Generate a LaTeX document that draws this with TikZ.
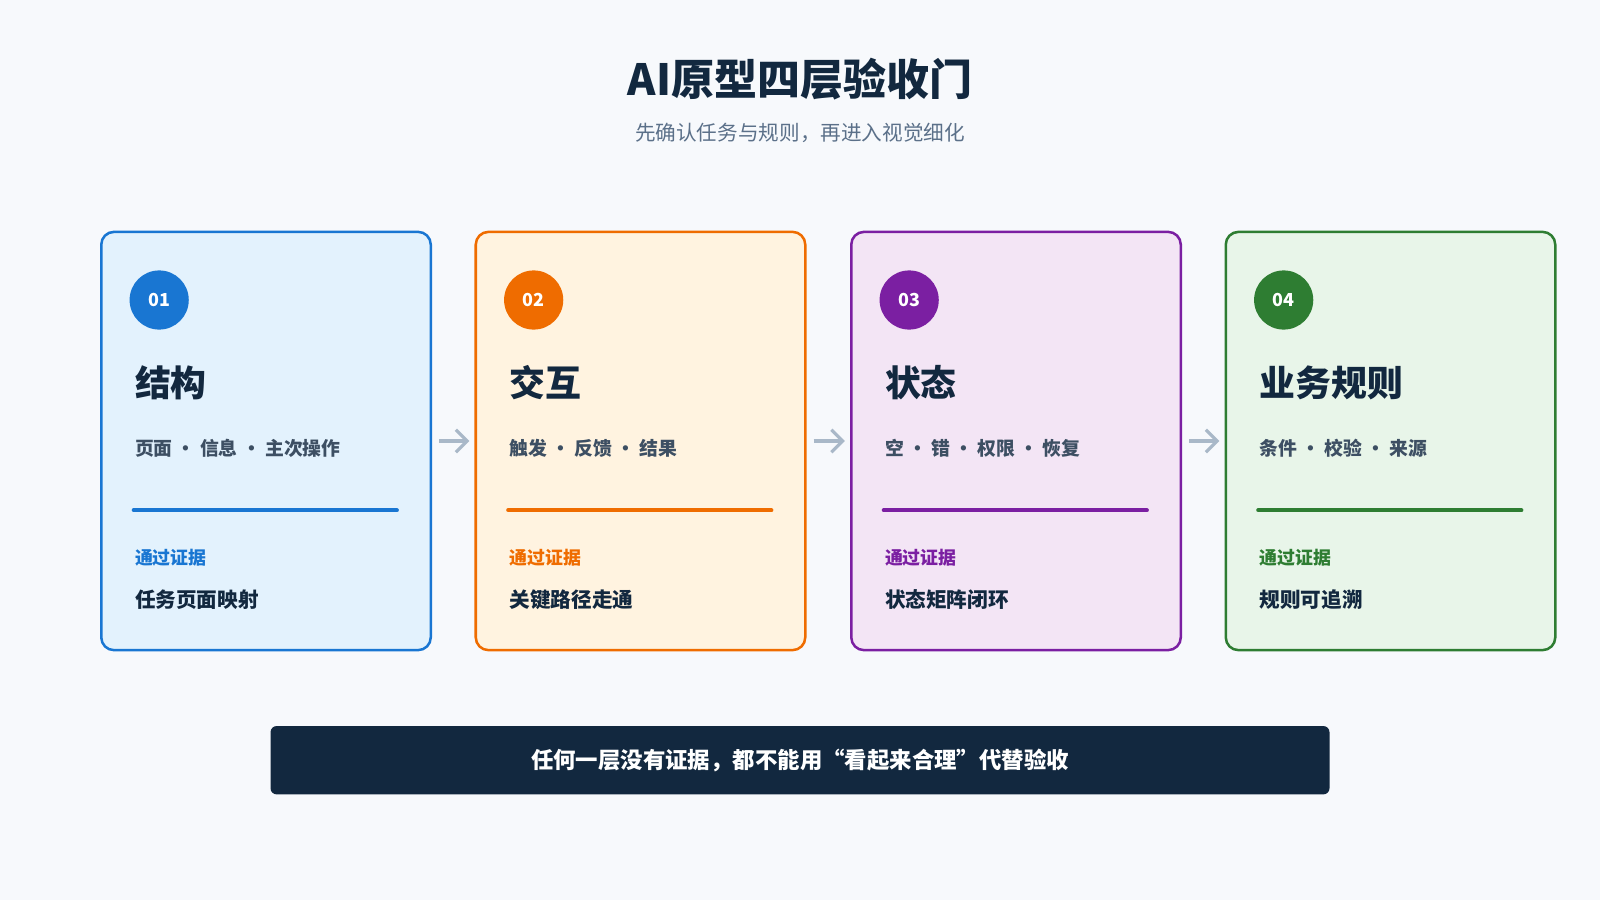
\documentclass[tikz,border=0pt]{standalone}
\usepackage{fontspec}
\setmainfont{Noto Sans CJK SC}
\usetikzlibrary{positioning, arrows.meta}
\definecolor{bgcolor}{HTML}{F7F9FC}
\definecolor{navy}{HTML}{12283F}
\definecolor{subgray}{HTML}{5B7089}
\definecolor{itemgray}{HTML}{3D4F63}
\definecolor{arrowgray}{HTML}{A9B8C8}
\definecolor{bluec}{HTML}{1976D2}
\definecolor{bluef}{HTML}{E3F2FD}
\definecolor{orangec}{HTML}{EF6C00}
\definecolor{orangef}{HTML}{FFF3E0}
\definecolor{purplec}{HTML}{7B1FA2}
\definecolor{purplef}{HTML}{F3E5F5}
\definecolor{greenc}{HTML}{2E7D32}
\definecolor{greenf}{HTML}{E8F5E9}

\begin{document}
\begin{tikzpicture}[x=0.02cm, y=-0.02cm,
    card/.style={rectangle, rounded corners=0.25cm, minimum width=6.46cm, minimum height=8.2cm, line width=1.4pt, anchor=north west},
    badge/.style={circle, minimum size=1.16cm, inner sep=0pt, text=white, font=\fontsize{10}{12}\selectfont\bfseries},
    label/.style={anchor=west, inner sep=0pt, font=\bfseries},
    arrow/.style={-{Straight Barb[length=2.2mm, width=4.4mm]}, line width=1.8pt, arrowgray}
]
    % === fond ===
    \fill[bgcolor] (0,0) rectangle (1568,882);

    % === titre ===
    \node[font=\fontsize{24}{28}\selectfont\bfseries, text=navy] (title) at (784,78) {AI原型四层验收门};
    \node[font=\fontsize{11.5}{14}\selectfont, text=subgray] (subtitle) at (784,130) {先确认任务与规则，再进入视觉细化};

    % === cartes ===
    \foreach \i/\x/\col/\head/\items/\proof in {
        1/98/blue/结构/页面 • 信息 • 主次操作/任务页面映射,
        2/465/orange/交互/触发 • 反馈 • 结果/关键路径走通,
        3/833/purple/状态/空 • 错 • 权限 • 恢复/状态矩阵闭环,
        4/1200/green/业务规则/条件 • 校验 • 来源/规则可追溯}{
        \node[card, fill=\col f, draw=\col c] (card\i) at (\x,226) {};
        \node[badge, fill=\col c] (num\i) at (\x+58,294) {0\i};
        \node[label, text=navy, font=\fontsize{20}{24}\selectfont\bfseries] (head\i) at (\x+34,375) {\head};
        \node[label, text=itemgray, font=\fontsize{10.5}{13}\selectfont\bfseries] (items\i) at (\x+34,439) {\items};
        \draw[\col c, line width=2.2pt, line cap=round] (\x+33,500) -- (\x+291,500);
        \node[label, text=\col c, font=\fontsize{10}{12}\selectfont\bfseries] (plabel\i) at (\x+34,547) {通过证据};
        \node[label, text=navy, font=\fontsize{11.5}{14}\selectfont\bfseries] (proof\i) at (\x+34,588) {\proof};
    }

    % === flèches ===
    \foreach \a/\b in {1/2, 2/3, 3/4}
        \draw[arrow, shorten <=7*0.02cm, shorten >=5*0.02cm] (card\a.east) -- (card\b.west);

    % === bandeau ===
    \node[rectangle, rounded corners=0.12cm, fill=navy, minimum width=20.76cm, minimum height=1.34cm, text=white, font=\fontsize{12.5}{15}\selectfont\bfseries] (note) at (784,745) {任何一层没有证据，都不能用“看起来合理”代替验收};
\end{tikzpicture}
\end{document}
